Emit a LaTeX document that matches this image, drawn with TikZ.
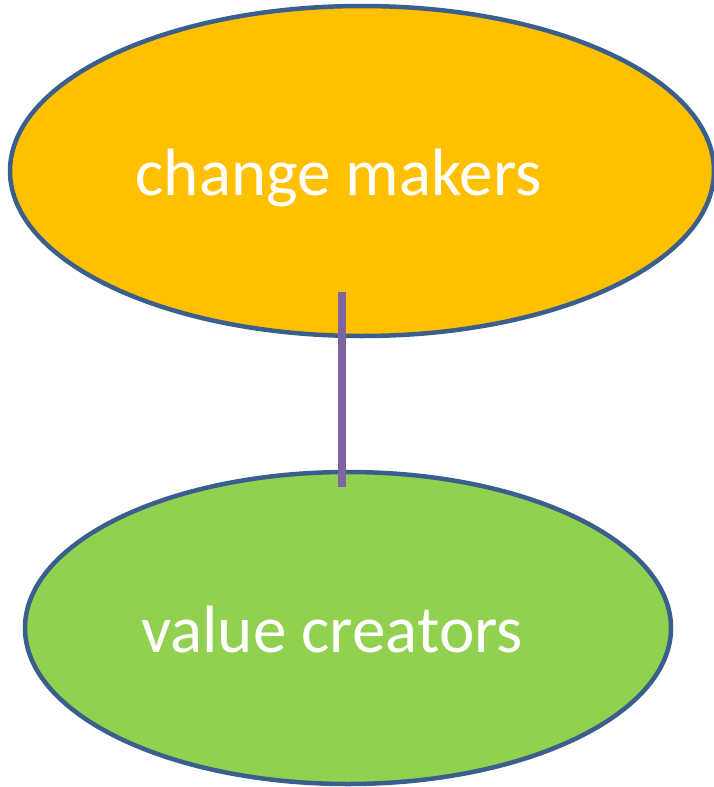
\documentclass[tikz,border=0pt]{standalone}
\usepackage{fontspec}
\setmainfont{Carlito}
\usetikzlibrary{shapes.geometric}

\definecolor{rimblue}{HTML}{3A5F8C}
\definecolor{makerorange}{HTML}{FFC000}
\definecolor{creatorgreen}{HTML}{92D050}
\definecolor{linkpurple}{HTML}{8064A2}

\begin{document}
\begin{tikzpicture}[x=1pt,y=-1pt,
    blob/.style={ellipse,draw=rimblue,line width=4.5pt,inner sep=0pt},
    blobtext/.style={anchor=base,inner sep=0pt,text=white,font=\fontsize{67}{80}\selectfont}]
      \useasboundingbox (0,0) rectangle (714,787);
      \node[blob,fill=makerorange,minimum width=704pt,minimum height=330pt](makers) at (362,171){};
      \node[blob,fill=creatorgreen,minimum width=646pt,minimum height=312pt](creators) at (348,628){};
      \node[blobtext](makerslabel) at (338.5,195){change makers};
      \node[blobtext](creatorslabel) at (332,652){value creators};
      \coordinate (linktop) at (342,292);
      \coordinate (linkbot) at (342,487);
      \draw[linkpurple,line width=8pt] (linktop) -- (linkbot);
    \end{tikzpicture}
\end{document}
